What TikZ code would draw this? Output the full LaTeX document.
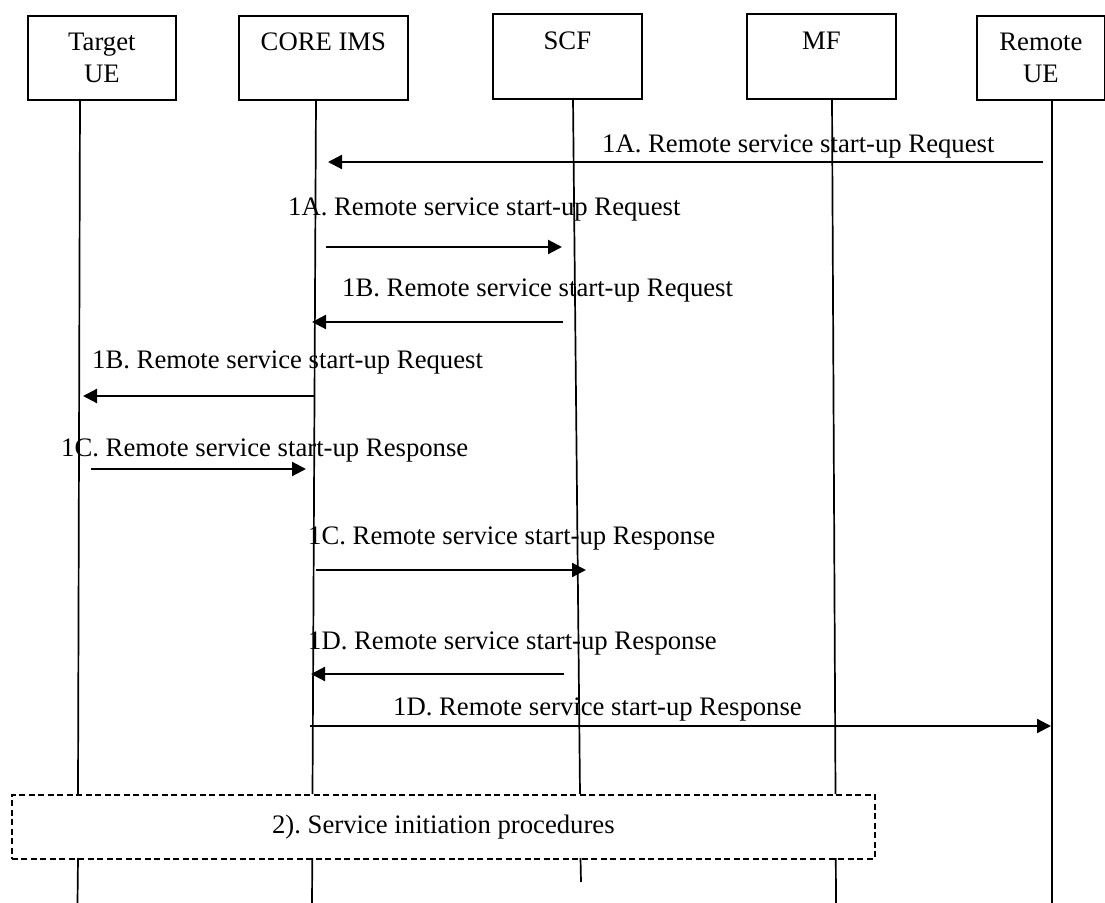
\documentclass[tikz,border=0pt]{standalone}
\usepackage{fontspec}
\setmainfont{Liberation Serif}
\usetikzlibrary{arrows.meta}
\frenchspacing
\begin{document}
\frenchspacing
\begin{tikzpicture}[x=1bp,y=-1bp,
  txt/.style={font=\fontsize{26.7bp}{32bp}\selectfont},
  actor/.style={txt,draw,line width=1.8bp,anchor=north west,align=center,inner sep=0pt},
  life/.style={line width=1.7bp},
  msg/.style={line width=2.2bp,-{Triangle[length=14bp,width=14bp]}},
  lbl/.style={txt,inner sep=0pt,anchor=west},
  procbox/.style={txt,draw,line width=1.8bp,dash pattern=on 6bp off 3.5bp,anchor=north west,inner sep=0pt}
]
\useasboundingbox (0,0) rectangle (1105,903);
% actors
\node[actor,minimum width=148bp,minimum height=84bp] (tue) at (27,15) {Target\\UE};
\node[actor,minimum width=169bp,minimum height=84bp] (core) at (238,15) {CORE IMS\\\mbox{}};
\node[actor,minimum width=149bp,minimum height=85bp] (scf) at (492,13) {SCF\\\mbox{}};
\node[actor,minimum width=149bp,minimum height=85bp] (mf) at (746,13) {MF\\\mbox{}};
\node[actor,minimum width=128bp,minimum height=84bp] (rue) at (976,15) {Remote\\UE};
% procedure box
\node[procbox,minimum width=863bp,minimum height=64bp] (proc) at (11,794) {2). Service initiation procedures};
% lifeline coordinates
\coordinate (tueA) at (80,99);   \coordinate (tueB) at (78,794);  \coordinate (tueC) at (78,858);  \coordinate (tueD) at (77.5,903);
\coordinate (coreA) at (316,99); \coordinate (coreB) at (312.5,794); \coordinate (coreC) at (312.3,858); \coordinate (coreD) at (312,903);
\coordinate (scfA) at (573,98);  \coordinate (scfB) at (580,794); \coordinate (scfC) at (580.5,858); \coordinate (scfD) at (581,882);
\coordinate (mfA) at (832,98);   \coordinate (mfB) at (835.5,794); \coordinate (mfC) at (835.8,858); \coordinate (mfD) at (836,903);
\coordinate (rueA) at (1052,99); \coordinate (rueD) at (1052,903);
\draw[life] (tueA) -- (tueB) (tueC) -- (tueD);
\draw[life] (coreA) -- (coreB) (coreC) -- (coreD);
\draw[life] (scfA) -- (scfB) (scfC) -- (scfD);
\draw[life] (mfA) -- (mfB) (mfC) -- (mfD);
\draw[life] (rueA) -- (rueD);
% message end points
\coordinate (m1s) at (1043,162); \coordinate (m1e) at (328,162);
\coordinate (m2s) at (326,247);  \coordinate (m2e) at (562,247);
\coordinate (m3s) at (563,322);  \coordinate (m3e) at (312,322);
\coordinate (m4s) at (315,396);  \coordinate (m4e) at (83,396);
\coordinate (m5s) at (91,469);   \coordinate (m5e) at (306,469);
\coordinate (m6s) at (316,570);  \coordinate (m6e) at (586,570);
\coordinate (m7s) at (564,674);  \coordinate (m7e) at (311,674);
\coordinate (m8s) at (310,726);  \coordinate (m8e) at (1051,726);
\draw[msg] (m1s) -- (m1e);
\draw[msg] (m2s) -- (m2e);
\draw[msg] (m3s) -- (m3e);
\draw[msg] (m4s) -- (m4e);
\draw[msg] (m5s) -- (m5e);
\draw[msg] (m6s) -- (m6e);
\draw[msg] (m7s) -- (m7e);
\draw[msg] (m8s) -- (m8e);
% labels
\node[lbl] (l1) at (602,147) {1A. Remote service start-up Request};
\node[lbl] (l2) at (288,210) {1A. Remote service start-up Request};
\node[lbl] (l3) at (342,290) {1B. Remote service start-up Request};
\node[lbl] (l4) at (92,362) {1B. Remote service start-up Request};
\node[lbl] (l5) at (61,450) {1C. Remote service start-up Response};
\node[lbl] (l6) at (308,538) {1C. Remote service start-up Response};
\node[lbl] (l7) at (308,643) {1D. Remote service start-up Response};
\node[lbl] (l8) at (393,709) {1D. Remote service start-up Response};
\end{tikzpicture}
\end{document}
